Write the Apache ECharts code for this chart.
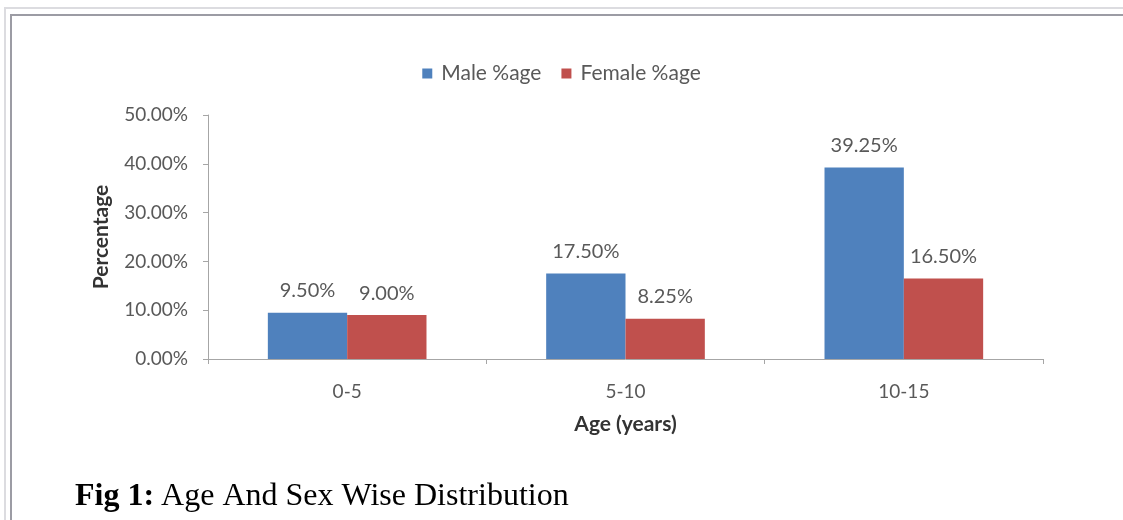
<!DOCTYPE html>
<html>
<head>
<meta charset="utf-8">
<script src="https://cdn.jsdelivr.net/npm/echarts@6/dist/echarts.min.js"></script>
<style>
html,body{margin:0;padding:0;background:#fff;}
#c{width:1123px;height:520px;}
</style>
</head>
<body>
<div id="c"></div>
<script>
const categories = ['0-5', '5-10', '10-15'];
const maleValues = [9.50, 17.50, 39.25];
const femaleValues = [9.00, 8.25, 16.50];
const seriesNames = ['Male %age', 'Female %age'];
const yTicks = [0, 10, 20, 30, 40, 50];

const chart = echarts.init(document.getElementById('c'), null, {renderer: 'canvas'});
const font = 'Lato, "Open Sans", sans-serif';
const labelStyle = {
  show: true, position: 'top', distance: 12,
  color: '#595959', fontFamily: font, fontSize: 20,
  formatter: p => p.value.toFixed(2) + '%'
};
chart.setOption({
  animation: false,
  backgroundColor: '#fff',
  graphic: [
    {type: 'rect', shape: {x: 5, y: 8, width: 1300, height: 700}, style: {fill: 'none', stroke: '#dcdce0', lineWidth: 2}, silent: true},
    {type: 'rect', shape: {x: 11, y: 15, width: 1300, height: 700}, style: {fill: 'none', stroke: '#9c9ca4', lineWidth: 2}, silent: true},
    {type: 'text', left: 75, top: 481, style: {
      text: '{b|Fig 1:}{s| }{n|Age And Sex Wise Distribution}',
      rich: {
        b: {fontFamily: '"Liberation Serif", "Times New Roman", serif', fontWeight: 'bold', fontSize: 32, fill: '#000'},
        s: {fontFamily: '"Liberation Serif", "Times New Roman", serif', fontSize: 32, fill: '#000', width: 7},
        n: {fontFamily: '"Liberation Serif", "Times New Roman", serif', fontSize: 32, fill: '#000'}
      }
    }}
  ],
  legend: {
    data: seriesNames,
    top: 58, left: 'center',
    itemWidth: 10, itemHeight: 10, itemGap: 20,
    icon: 'rect',
    textStyle: {color: '#595959', fontFamily: font, fontSize: 21, padding: [0, 0, 0, 4]}
  },
  grid: {left: 208, right: 80, top: 115, bottom: 161, containLabel: false},
  xAxis: {
    type: 'category',
    data: categories,
    name: 'Age (years)',
    nameLocation: 'middle',
    nameGap: 55,
    nameTextStyle: {color: '#333', fontFamily: font, fontSize: 21, fontWeight: 'bold'},
    axisLine: {lineStyle: {color: '#a6a6a6', width: 1}},
    axisTick: {show: true, length: 5, lineStyle: {color: '#a6a6a6'}},
    axisLabel: {color: '#595959', fontFamily: font, fontSize: 19, margin: 23}
  },
  yAxis: {
    type: 'value',
    min: yTicks[0], max: yTicks[yTicks.length - 1], interval: 10,
    name: 'Percentage',
    nameLocation: 'middle',
    nameGap: 96,
    nameTextStyle: {color: '#333', fontFamily: font, fontSize: 21, fontWeight: 'bold'},
    axisLine: {show: true, lineStyle: {color: '#a6a6a6', width: 1}},
    axisTick: {show: true, length: 5, lineStyle: {color: '#a6a6a6'}},
    splitLine: {show: false},
    axisLabel: {color: '#595959', fontFamily: font, fontSize: 19, margin: 20,
      formatter: v => v.toFixed(2) + '%'}
  },
  series: [
    {name: seriesNames[0], type: 'bar', data: maleValues, barGap: '0%', barCategoryGap: '43%',
      itemStyle: {color: '#4F81BD'}, label: labelStyle},
    {name: seriesNames[1], type: 'bar', data: femaleValues, barGap: '0%', barCategoryGap: '43%',
      itemStyle: {color: '#C0504D'}, label: labelStyle}
  ]
});
</script>
</body>
</html>
